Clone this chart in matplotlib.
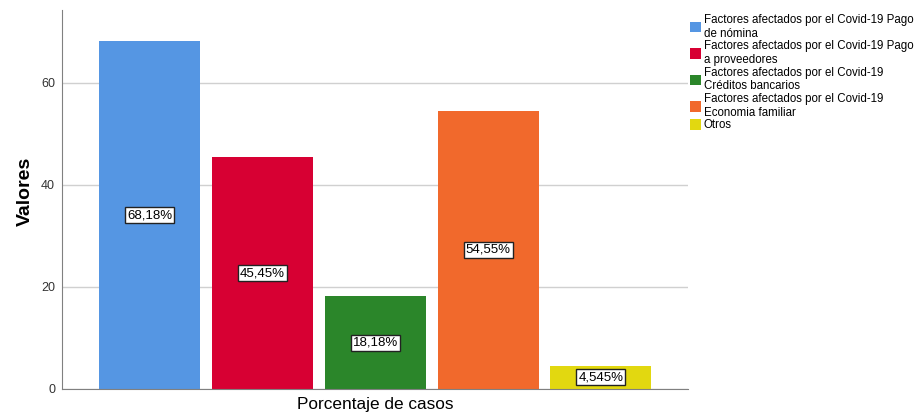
import numpy as np
import matplotlib.pyplot as plt
from matplotlib.patches import Patch

plt.rcParams['font.family'] = ['Liberation Sans', 'DejaVu Sans']

# datos
categorias = ['Factores afectados por el Covid-19 Pago\nde nómina',
              'Factores afectados por el Covid-19 Pago\na proveedores',
              'Factores afectados por el Covid-19\nCréditos bancarios',
              'Factores afectados por el Covid-19\nEconomia familiar',
              'Otros']
valores = [68.18, 45.45, 18.18, 54.55, 4.545]
etiquetas = ['68,18%', '45,45%', '18,18%', '54,55%', '4,545%']
colores = ['#5596E3', '#D70033', '#2B862A', '#F1692C', '#E2D810']

fig = plt.figure(figsize=(9.16, 4.16), dpi=100, facecolor='w')
ax = fig.add_axes([0.0677, 0.065, 0.683, 0.911])

x = np.arange(len(valores))
ax.bar(x, valores, width=0.895, color=colores, zorder=2)
for xi, v, t in zip(x, valores, etiquetas):
    ax.text(xi, v / 2, t, ha='center', va='center', fontsize=9.5, zorder=3,
            bbox=dict(boxstyle='square,pad=0.15', fc='white', ec='#222222', lw=1))

ax.set_xlim(-0.78, 4.77)
ax.set_ylim(0, 74.3)
ax.set_yticks([0, 20, 40, 60])
ax.set_xticks([])
ax.yaxis.grid(True, color='#D0D0D0', lw=1, zorder=0)
ax.tick_params(axis='y', length=0, labelsize=9, labelcolor='#333333', pad=5)
for s in ['top', 'right']:
    ax.spines[s].set_visible(False)
for s in ['left', 'bottom']:
    ax.spines[s].set_color('#808080')
ax.set_ylabel('Valores', fontsize=14, fontweight='bold')
ax.yaxis.set_label_coords(-0.045, 0.522)
ax.set_xlabel('Porcentaje de casos', fontsize=12.4, labelpad=6)

handles = [Patch(facecolor=c, edgecolor='none') for c in colores]
fig.legend(handles, categorias, loc='upper left', bbox_to_anchor=(0.748, 0.978),
           frameon=False, fontsize=8.3, handlelength=1.0, handleheight=1.0,
           handletextpad=0.2, labelspacing=0.05, borderaxespad=0)

fig.savefig('out.png', dpi=100)
